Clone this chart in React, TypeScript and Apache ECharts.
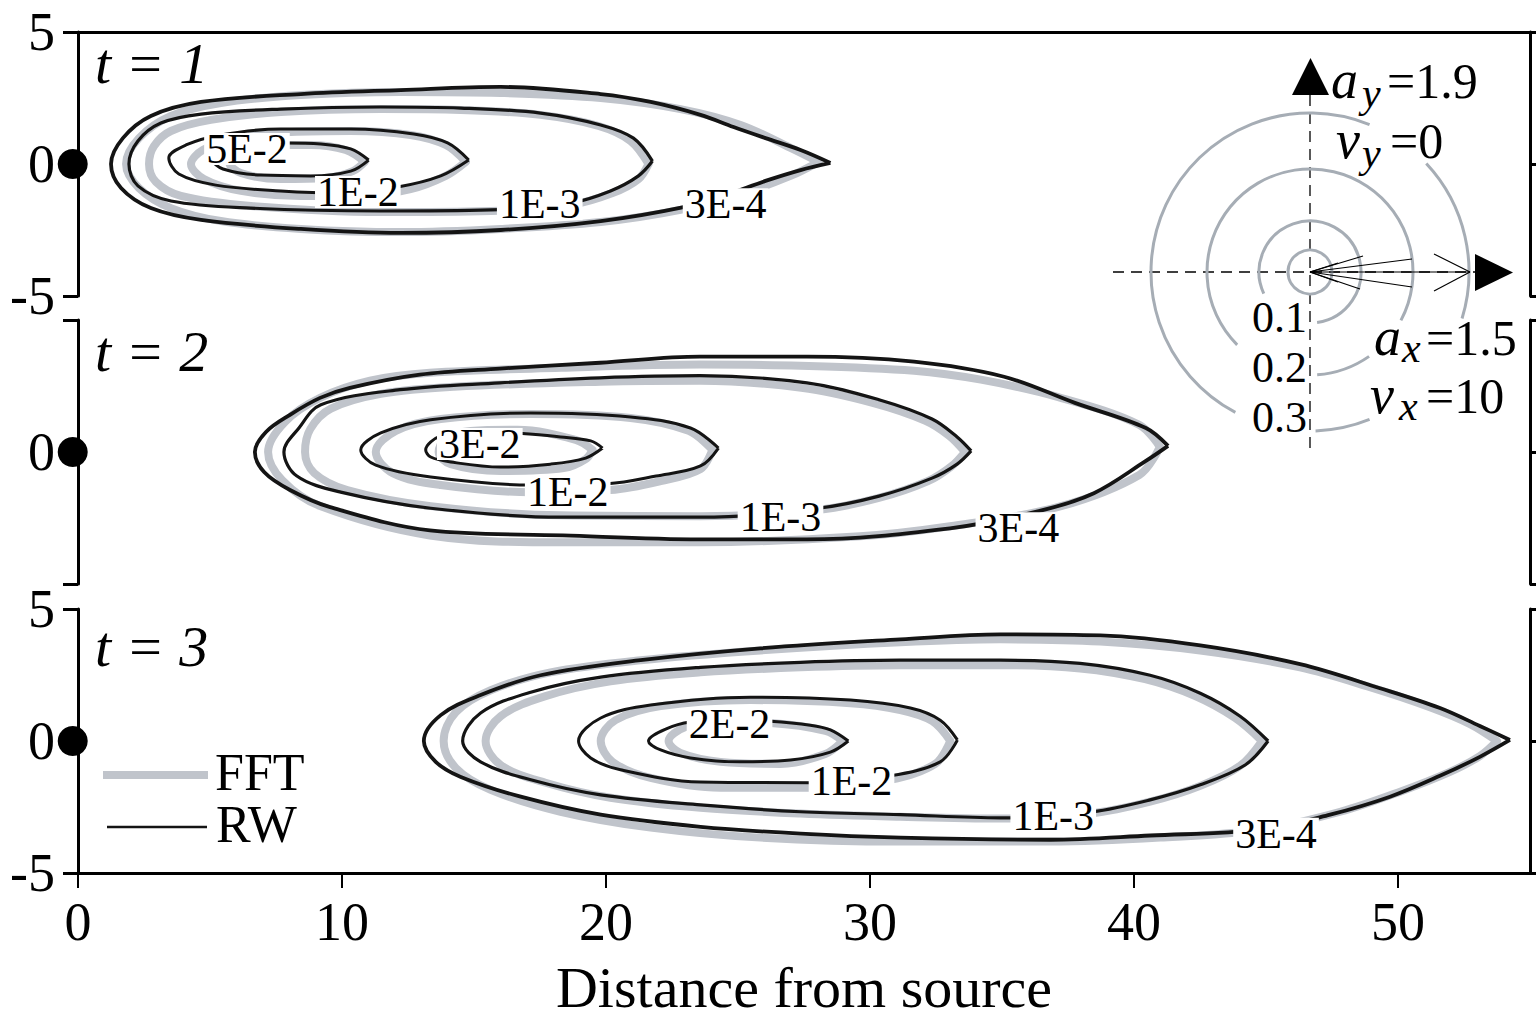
import React, { useEffect, useRef } from "react";
import * as echarts from "echarts";

const SERIF = '"Liberation Serif", "Times New Roman", Times, serif';
const FFT_GRAY = "#c0c4cb";
const RING_GRAY = "#a6adb5";
const INK = "#141414";

// ---------- axes ----------
const xTickValues = [0, 10, 20, 30, 40, 50];
const yLabelShown = [[-5, 0, 5], [0], [-5, 0, 5]];
const panelTitles = ["t = 1", "t = 2", "t = 3"];
const xAxisTitle = "Distance from source";

// ---------- contour levels & label anchors ----------
const levelsT1 = ["3E-4", "1E-3", "1E-2", "5E-2"];
const levelsT2 = ["3E-4", "1E-3", "1E-2", "3E-2"];
const levelsT3 = ["3E-4", "1E-3", "1E-2", "2E-2"];
const labelPosT1 = [[24.53, -1.52], [17.49, -1.52], [10.6, -1.06], [6.4, 0.57]];
const labelPosT2 = [[35.62, -2.89], [26.61, -2.47], [18.55, -1.52], [15.22, 0.3]];
const labelPosT3 = [[45.38, -3.51], [36.94, -2.83], [29.3, -1.51], [24.68, 0.64]];

// source position (as drawn)
const sourcePoint = [-0.2, 0];

// ---------- t = 1 ----------
const t1FFT_3E4 = [[28.05,0.08],[26.99,0.61],[25.1,1.48],[22.82,2.08],[19.8,2.5],[16.01,2.69],[12.23,2.73],[8.44,2.61],[5.41,2.31],[3.52,1.82],[2.31,0.98],[1.82,0],[2.31,-0.91],[3.52,-1.67],[5.41,-2.16],[8.44,-2.46],[12.23,-2.58],[16.01,-2.46],[19.8,-2.2],[22.82,-1.74],[25.1,-1.14],[26.99,-0.45]];
const t1RW_3E4 = [[28.5,0.04],[27.37,0.53],[26.04,0.98],[24.83,1.4],[23.58,1.86],[21.69,2.35],[19.8,2.65],[16.01,2.92],[12.23,2.8],[8.44,2.65],[4.66,2.35],[2.76,1.82],[1.7,0.98],[1.25,0],[1.63,-0.91],[2.76,-1.67],[4.66,-2.12],[8.44,-2.46],[12.23,-2.61],[16.01,-2.5],[19.8,-2.16],[22.94,-1.63],[24.53,-1.17],[26.04,-0.64],[27.37,-0.23]];
const t1FFT_1E3 = [[21.61,0],[20.93,0.87],[19.72,1.44],[17.52,1.86],[14.5,2.05],[11.47,2.08],[7.68,1.97],[5.03,1.67],[3.52,1.25],[2.88,0.68],[2.69,0],[2.95,-0.68],[3.9,-1.21],[6.55,-1.59],[11.47,-1.82],[15.63,-1.78],[18.66,-1.55],[20.25,-1.1],[21.23,-0.57]];
const t1RW_1E3 = [[21.76,0.11],[21.04,0.98],[19.8,1.48],[17.52,1.93],[14.5,2.12],[11.47,2.16],[7.68,2.08],[4.66,1.89],[3.14,1.55],[2.27,0.87],[1.93,0],[2.27,-0.83],[3.52,-1.4],[6.55,-1.67],[11.47,-1.78],[15.63,-1.74],[18.66,-1.48],[20.17,-1.02],[21.23,-0.45]];
const t1FFT_1E2 = [[14.69,0.08],[13.93,0.72],[12.6,1.1],[10.33,1.25],[8.06,1.21],[5.98,0.98],[4.73,0.53],[4.28,0],[4.77,-0.57],[6.17,-1.02],[8.44,-1.21],[10.71,-1.21],[12.6,-0.95],[13.93,-0.45]];
const t1RW_1E2 = [[14.8,0.15],[14.0,0.8],[12.72,1.14],[10.33,1.33],[7.68,1.33],[5.41,1.1],[4.09,0.72],[3.44,0.23],[3.82,-0.38],[5.22,-0.8],[7.68,-1.02],[9.95,-1.1],[12.11,-0.87],[13.74,-0.45]];
const t1FFT_5E2 = [[10.86,0.08],[10.14,0.53],[8.82,0.72],[7.3,0.72],[6.09,0.49],[5.72,0.08],[6.17,-0.34],[7.68,-0.57],[9.39,-0.53],[10.41,-0.27]];
const t1RW_5E2 = [[11.01,0.15],[10.33,0.57],[9.2,0.76],[7.8,0.8],[6.55,0.76],[5.49,0.53],[5.11,0.15],[5.49,-0.19],[6.93,-0.42],[8.82,-0.45],[10.33,-0.27]];

// ---------- t = 2 ----------
const t2FFT_3E4 = [[40.98,0.19],[40.2,1.03],[37.1,2.09],[34.2,2.74],[31.67,3.08],[27.35,3.27],[23.56,3.31],[18.3,3.19],[13.33,3.0],[11.06,2.7],[9.17,2.05],[7.84,1.14],[7.2,0],[7.73,-1.06],[9.17,-2.05],[13.33,-3.16],[18.37,-3.42],[23.56,-3.42],[29.62,-3.19],[33.03,-2.81],[37.1,-2.09],[40.2,-0.87]];
const t2RW_3E4 = [[41.29,0.23],[40.45,0.91],[37.76,1.86],[35.08,2.85],[31.67,3.42],[27.61,3.61],[23.56,3.61],[19.77,3.38],[15.98,3.16],[12.95,2.93],[10.3,2.43],[9.17,2.05],[8.03,1.41],[7.12,0.76],[6.7,0],[7.05,-0.76],[8.03,-1.44],[9.55,-2.09],[13.33,-2.97],[18.37,-3.16],[23.56,-3.31],[27.61,-3.31],[33.03,-2.89],[36.39,-2.24],[38.48,-1.56],[40.45,-0.34]];
const t2FFT_1E3 = [[33.6,0],[33.0,0.61],[32.1,1.18],[30.1,1.86],[27.4,2.43],[23.56,2.7],[19.8,2.66],[14.25,2.47],[11.47,2.2],[9.58,1.64],[8.8,0.87],[8.6,0],[8.95,-0.8],[10.2,-1.44],[13.36,-2.05],[18.28,-2.4],[23.56,-2.43],[28.0,-2.2],[30.3,-1.75],[32.2,-1.1],[33.1,-0.53]];
const t2RW_1E3 = [[33.83,0.04],[33.3,0.57],[32.35,1.25],[30.34,1.98],[27.61,2.62],[23.56,2.89],[19.77,2.81],[15.98,2.62],[12.2,2.36],[9.2,1.79],[8.37,0.91],[7.8,0],[8.29,-0.91],[9.95,-1.52],[13.36,-2.13],[18.28,-2.47],[23.56,-2.47],[28.03,-2.13],[30.34,-1.67],[32.35,-0.99],[33.3,-0.46]];
const t2FFT_1E2 = [[24.03,0.08],[23.13,0.8],[20.93,1.29],[17.15,1.44],[13.74,1.25],[12.04,0.8],[11.28,0],[11.92,-0.8],[13.74,-1.25],[17.15,-1.52],[20.17,-1.44],[22.07,-1.1],[23.58,-0.65]];
const t2RW_1E2 = [[24.26,0.15],[23.2,0.91],[20.93,1.33],[17.15,1.48],[13.36,1.22],[11.47,0.72],[10.71,0.08],[11.28,-0.5],[13.36,-0.95],[17.15,-1.25],[20.06,-1.2],[21.9,-0.91],[23.58,-0.53]];
const t2FFT_3E2 = [[19.49,0.08],[18.85,0.46],[16.65,0.84],[14.87,0.8],[13.93,0.53],[13.66,0],[14.12,-0.46],[16.01,-0.72],[18.4,-0.61],[19.23,-0.27]];
const t2RW_3E2 = [[19.87,0.15],[19.42,0.42],[18.28,0.57],[16.65,0.72],[15.25,0.84],[13.74,0.61],[13.17,0.08],[13.36,-0.19],[14.12,-0.38],[16.01,-0.57],[17.9,-0.46],[19.23,-0.23]];

// ---------- t = 3 ----------
const t3FFT_3E4 = [[53.75,0],[52.73,0.64],[51.21,1.28],[48.94,2.04],[46.29,2.79],[42.51,3.43],[38.72,3.77],[34.94,3.85],[31.15,3.74],[25.85,3.43],[21.31,3.06],[17.9,2.6],[15.63,1.92],[14.31,1.09],[13.85,0],[14.31,-1.02],[15.63,-1.85],[18.28,-2.68],[21.69,-3.28],[25.85,-3.66],[31.15,-3.81],[36.83,-3.81],[41.0,-3.66],[44.78,-3.36],[47.81,-2.68],[50.08,-1.92],[51.97,-1.17],[53.1,-0.57]];
const t3RW_3E4 = [[54.24,0.04],[53.1,0.57],[51.59,1.25],[49.32,2.0],[46.29,2.91],[42.51,3.62],[38.72,4.0],[34.94,4.04],[31.15,3.85],[25.85,3.51],[21.31,3.06],[17.52,2.49],[15.25,1.74],[13.74,0.98],[13.1,0],[13.55,-0.79],[14.5,-1.36],[16.77,-2.11],[19.8,-2.79],[23.58,-3.25],[27.37,-3.51],[31.15,-3.66],[36.83,-3.74],[40.61,-3.58],[44.78,-3.36],[47.43,-2.79],[49.7,-2.11],[51.59,-1.32],[53.1,-0.6]];
const t3FFT_1E3 = [[44.85,0],[43.83,0.87],[42.32,1.7],[40.42,2.34],[37.96,2.75],[34.94,2.87],[31.15,2.87],[27.37,2.79],[23.58,2.6],[20.17,2.26],[17.71,1.7],[16.01,0.94],[15.44,0],[16.01,-0.91],[17.71,-1.58],[20.17,-2.15],[23.58,-2.53],[27.37,-2.75],[31.15,-2.87],[34.94,-2.94],[38.34,-2.75],[40.61,-2.3],[42.51,-1.7],[44.02,-0.94]];
const t3RW_1E3 = [[45.08,0],[44.02,0.94],[42.51,1.81],[40.61,2.49],[37.96,2.94],[34.94,3.06],[31.15,3.06],[27.37,2.98],[23.58,2.79],[19.8,2.42],[17.15,1.85],[15.25,1.06],[14.57,0],[15.25,-0.79],[17.15,-1.47],[19.8,-2.04],[23.58,-2.42],[27.37,-2.68],[31.15,-2.79],[34.94,-2.91],[38.42,-2.68],[40.61,-2.23],[42.51,-1.66],[44.21,-0.91]];
const t3FFT_1E2 = [[33.04,0],[32.36,0.75],[31.15,1.17],[29.26,1.43],[25.47,1.55],[22.07,1.32],[20.36,0.79],[19.8,0],[20.25,-0.79],[21.69,-1.4],[24.34,-1.77],[27.82,-1.77],[30.77,-1.47],[32.47,-0.87]];
const t3RW_1E2 = [[33.31,0.04],[32.66,0.79],[31.53,1.25],[29.26,1.55],[25.47,1.66],[21.69,1.36],[19.8,0.87],[18.96,0],[19.42,-0.64],[20.55,-1.09],[23.58,-1.55],[27.82,-1.58],[30.77,-1.32],[32.66,-0.79]];
const t3FFT_2E2 = [[28.96,0],[28.31,0.38],[26.23,0.68],[24.34,0.72],[23.01,0.53],[22.37,0],[22.82,-0.45],[24.34,-0.79],[26.61,-0.87],[28.31,-0.49]];
const t3RW_2E2 = [[29.18,0],[28.5,0.42],[27.74,0.6],[26.23,0.75],[24.72,0.79],[23.2,0.72],[22.26,0.45],[21.61,0],[22.07,-0.34],[23.2,-0.64],[25.09,-0.79],[26.99,-0.72],[28.5,-0.42]];

// ---------- inset annotation ----------
const insetRingLabels = ["0.1", "0.2", "0.3"];
const insetAy = "1.9";
const insetVy = "0";
const insetAx = "1.5";
const insetVx = "10";

const panels = [
  { fft: [t1FFT_3E4, t1FFT_1E3, t1FFT_1E2, t1FFT_5E2], rw: [t1RW_3E4, t1RW_1E3, t1RW_1E2, t1RW_5E2], levels: levelsT1, labelPos: labelPosT1 },
  { fft: [t2FFT_3E4, t2FFT_1E3, t2FFT_1E2, t2FFT_3E2], rw: [t2RW_3E4, t2RW_1E3, t2RW_1E2, t2RW_3E2], levels: levelsT2, labelPos: labelPosT2 },
  { fft: [t3FFT_3E4, t3FFT_1E3, t3FFT_1E2, t3FFT_2E2], rw: [t3RW_3E4, t3RW_1E3, t3RW_1E2, t3RW_2E2], levels: levelsT3, labelPos: labelPosT3 },
];

const GRID_TOPS = [32, 320, 609];
const GRID_H = 264;
const RW_WIDTHS = [3.8, 3.2, 3.0, 3.0];

function closeLoop(pts: number[][]) {
  return [...pts, pts[0]];
}

function txt(x: number, base: number, text: string, size: number, italic = false, align = "left", lineHeight?: number) {
  return {
    type: "text",
    z: 100,
    silent: true,
    style: {
      text,
      x,
      y: base - 0.3375 * size,
      fontFamily: SERIF,
      fontSize: size,
      fontStyle: italic ? "italic" : "normal",
      lineHeight: lineHeight ?? size,
      fill: "#000",
      textAlign: align,
      align,
      textVerticalAlign: "middle",
      verticalAlign: "middle",
    },
  };
}

function ln(x1: number, y1: number, x2: number, y2: number, w: number, color = "#000", dash?: number[]) {
  return {
    type: "line",
    z: 100,
    silent: true,
    shape: { x1, y1, x2, y2 },
    style: { stroke: color, lineWidth: w, lineDash: dash },
  };
}

const deg = (d: number) => (d * Math.PI) / 180;
function ring(cx: number, cy: number, r: number, a: number, b: number) {
  return {
    type: "arc",
    z: 100,
    silent: true,
    shape: { cx, cy, r, startAngle: deg(-b), endAngle: deg(-a), clockwise: true },
    style: { stroke: RING_GRAY, lineWidth: 3, fill: "none" },
  };
}

function buildOption() {
  const grid = GRID_TOPS.map((top) => ({ left: 78, right: 6, top, height: GRID_H, outerBoundsMode: "none" }));

  const xAxis = [0, 1, 2].map((i) => ({
    type: "value",
    gridIndex: i,
    min: 0,
    max: 55,
    interval: 10,
    position: i === 0 ? "top" : "bottom",
    show: i !== 1,
    axisLine: { show: i !== 1, onZero: false, lineStyle: { color: "#000", width: 3 } },
    axisTick: { show: i === 2, length: 15, inside: false, customValues: xTickValues, lineStyle: { color: "#000", width: 2 } },
    axisLabel: {
      show: i === 2,
      customValues: xTickValues,
      fontFamily: SERIF,
      fontSize: 54,
      color: "#000",
      margin: 22,
    },
    splitLine: { show: false },
  }));

  const yLeft = [0, 1, 2].map((i) => ({
    type: "value",
    gridIndex: i,
    min: -5,
    max: 5,
    interval: 5,
    position: "left",
    axisLine: { show: true, onZero: false, lineStyle: { color: "#000", width: 3 } },
    axisTick: { show: true, length: 15, inside: false, lineStyle: { color: "#000", width: 3 } },
    axisLabel: {
      show: true,
      fontFamily: SERIF,
      fontSize: 54,
      color: "#000",
      margin: 23,
      formatter: (v: number) => (yLabelShown[i].includes(v) ? String(v) : ""),
    },
    splitLine: { show: false },
  }));

  const yRight = [0, 1, 2].map((i) => ({
    type: "value",
    gridIndex: i,
    min: -5,
    max: 5,
    interval: 5,
    position: "right",
    axisLine: { show: true, onZero: false, lineStyle: { color: "#000", width: 3 } },
    axisTick: { show: true, length: 7, inside: false, lineStyle: { color: "#000", width: 3 } },
    axisLabel: { show: false },
    splitLine: { show: false },
  }));

  const series: any[] = [];
  panels.forEach((p, i) => {
    p.fft.forEach((pts) => {
      series.push({
        type: "line",
        name: "FFT",
        xAxisIndex: i,
        yAxisIndex: i,
        data: closeLoop(pts),
        smooth: 0.35,
        symbol: "none",
        silent: true,
        z: 2,
        lineStyle: { color: FFT_GRAY, width: 8, cap: "round", join: "round", opacity: 1 },
      });
    });
    p.rw.forEach((pts, k) => {
      series.push({
        type: "line",
        name: "RW",
        xAxisIndex: i,
        yAxisIndex: i,
        data: closeLoop(pts),
        smooth: 0.35,
        symbol: "none",
        silent: true,
        z: 3,
        lineStyle: { color: INK, width: RW_WIDTHS[k], join: "round", opacity: 1 },
      });
    });
    series.push({
      type: "scatter",
      xAxisIndex: i,
      yAxisIndex: i,
      symbolSize: 1,
      silent: true,
      z: 5,
      itemStyle: { color: "rgba(0,0,0,0)", opacity: 1 },
      data: p.levels.map((lv, k) => ({ name: lv, value: p.labelPos[k] })),
      label: {
        show: true,
        position: "inside",
        formatter: "{b}",
        fontFamily: SERIF,
        fontSize: 42,
        color: "#000",
        opacity: 1,
        backgroundColor: "#fff",
        padding: [0, 2],
        lineHeight: 32,
      },
    });
    series.push({
      type: "scatter",
      xAxisIndex: i,
      yAxisIndex: i,
      symbolSize: 30,
      clip: false,
      silent: true,
      z: 6,
      itemStyle: { color: "#000", opacity: 1 },
      data: [sourcePoint],
    });
  });

  // ---------- graphic: panel titles, legend, axis title, inset ----------
  const cx = 1310;
  const cy = 272;
  const elements: any[] = [];
  const titleBase = [83, 371, 666];
  panelTitles.forEach((t, i) => elements.push(txt(95, titleBase[i], t, 58, true)));

  // legend
  elements.push(ln(103, 775, 208, 775, 8, FFT_GRAY));
  elements.push(txt(215, 790, "FFT", 52));
  elements.push(ln(107, 827, 207, 827, 2.6, INK));
  elements.push(txt(216, 842, "RW", 52));

  // axis title
  elements.push(txt(804, 1007, xAxisTitle, 58, false, "center", 48));

  // inset: dashed axes
  elements.push(ln(1113, cy, 1475, cy, 1.3, "#000", [11, 7]));
  elements.push(ln(cx, 95, cx, 455, 1.3, "#000", [11, 7]));
  // arrowheads
  elements.push({ type: "polygon", z: 100, silent: true, shape: { points: [[1292, 95], [1329, 95], [1310.5, 58]] }, style: { fill: "#000" } });
  elements.push({ type: "polygon", z: 100, silent: true, shape: { points: [[1475, 254], [1475, 291], [1513, 272.5]] }, style: { fill: "#000" } });
  // rings
  elements.push({ type: "circle", z: 100, silent: true, shape: { cx, cy, r: 22 }, style: { stroke: RING_GRAY, lineWidth: 3, fill: "none" } });
  elements.push(ring(cx, cy, 51, -82, 205));
  elements.push(ring(cx, cy, 103, -28, 225));
  elements.push(ring(cx, cy, 103, -86, -55));
  elements.push(ring(cx, cy, 159, 68, 242));
  elements.push(ring(cx, cy, 159, -17, 43));
  elements.push(ring(cx, cy, 159, -88, -68));
  // velocity fan
  const fanEnds = [[1470, 272], [1363, 256], [1412, 259], [1412, 287], [1360, 289], [1338, 263], [1338, 282]];
  fanEnds.forEach(([x, y]) => elements.push(ln(cx, cy, x, y, 1.2)));
  elements.push(ln(1434, 254, 1470, 272, 1.2));
  elements.push(ln(1434, 291, 1470, 272, 1.2));
  // inset texts
  elements.push(txt(1331, 98, "a", 54, true));
  elements.push(txt(1362, 107, "y", 42, true));
  elements.push(txt(1387, 98, "=" + insetAy, 50));
  elements.push(txt(1336, 158, "v", 54, true));
  elements.push(txt(1362, 167, "y", 42, true));
  elements.push(txt(1390, 158, "=" + insetVy, 50));
  elements.push(txt(1374, 355, "a", 54, true));
  elements.push(txt(1402, 362, "x", 42, true));
  elements.push(txt(1426, 355, "=" + insetAx, 50));
  elements.push(txt(1370, 413, "v", 54, true));
  elements.push(txt(1399, 420, "x", 42, true));
  elements.push(txt(1426, 413, "=" + insetVx, 50));
  const ringLabelBase = [332, 382, 432];
  insetRingLabels.forEach((s, k) => elements.push(txt(1307, ringLabelBase[k], s, 44, false, "right", 40)));

  return {
    animation: false,
    backgroundColor: "#ffffff",
    grid,
    xAxis,
    yAxis: [...yLeft, ...yRight],
    series,
    graphic: { elements },
  };
}

export default function App() {
  const ref = useRef<HTMLDivElement>(null);
  useEffect(() => {
    if (!ref.current) return;
    const chart = echarts.init(ref.current, null, { renderer: "svg" });
    chart.setOption(buildOption() as any);
    return () => chart.dispose();
  }, []);
  return (
    <div
      ref={ref}
      style={{ position: "fixed", left: 0, top: 0, width: 1536, height: 1021, background: "#fff" }}
    />
  );
}
